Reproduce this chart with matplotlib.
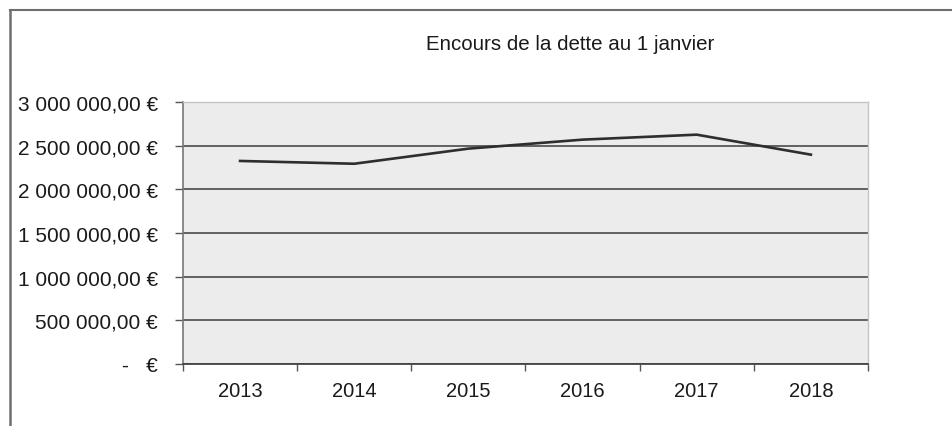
import matplotlib
matplotlib.use("Agg")
import matplotlib.pyplot as plt
from matplotlib.lines import Line2D
from matplotlib.ticker import FuncFormatter, FixedLocator

plt.rcParams['font.family'] = ['Liberation Sans', 'DejaVu Sans']

title = "Encours de la dette au 1 janvier"
years = ["2013", "2014", "2015", "2016", "2017", "2018"]
encours = [2325000, 2293000, 2466000, 2569000, 2626000, 2397000]
y_ticks = [0, 500000, 1000000, 1500000, 2000000, 2500000, 3000000]

W, H = 953, 427
fig = plt.figure(figsize=(W / 100, H / 100), dpi=100)

ax = fig.add_axes([183 / W, 1 - 365 / H, (868 - 183) / W, (365 - 103) / H])
ax.set_facecolor('#ececec')

x = list(range(len(years)))
ax.plot(x, encours, color='#2e2e2e', lw=1.9, solid_joinstyle='round', zorder=3)

ax.set_xlim(-0.5, len(years) - 0.5)
ax.set_ylim(0, 3000000)

def fmt(v, pos):
    if v == 0:
        return "-   €"
    s = f"{int(round(v)):,}".replace(",", " ")
    return s + ",00 €"

ax.yaxis.set_major_locator(FixedLocator(y_ticks))
ax.yaxis.set_major_formatter(FuncFormatter(fmt))
ax.grid(axis='y', color='#3c3c3c', lw=1.1, zorder=1)
ax.set_axisbelow(True)

# x: ticks at category boundaries, labels at centres
ax.set_xticks([i - 0.5 for i in range(len(years) + 1)])
ax.set_xticklabels([])
ax.set_xticks(x, minor=True)
ax.set_xticklabels(years, minor=True)
ax.tick_params(axis='x', which='major', length=5, width=1, color='#555555', direction='out')
ax.tick_params(axis='x', which='minor', length=0, pad=12, labelsize=14.5, labelcolor='#1a1a1a')
ax.tick_params(axis='y', length=6, width=1, color='#555555', pad=12, labelsize=15, labelcolor='#1a1a1a')

for side in ['top', 'right']:
    ax.spines[side].set_color('#c4c4c4')
    ax.spines[side].set_linewidth(1)
ax.spines['left'].set_color('#777777')
ax.spines['left'].set_linewidth(1.2)
ax.spines['bottom'].set_color('#444444')
ax.spines['bottom'].set_linewidth(1.3)

fig.text(570 / W, 1 - 45 / H, title, ha='center', va='center', fontsize=14.8, color='#1a1a1a')

# outer frame (top and left edges)
fig.add_artist(Line2D([10 / W, 1], [1 - 11 / H, 1 - 11 / H], transform=fig.transFigure, color='#6e6e6e', lw=1.5))
fig.add_artist(Line2D([10 / W, 10 / W], [1 - 11 / H, 0], transform=fig.transFigure, color='#6e6e6e', lw=1.8))

fig.savefig("out.png", dpi=100, facecolor='white')
